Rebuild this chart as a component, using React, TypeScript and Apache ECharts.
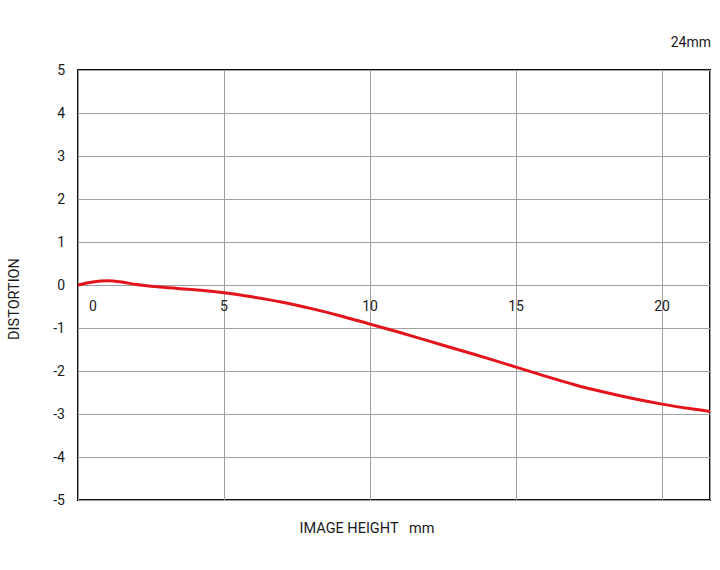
import React, { useEffect, useRef } from "react";
import * as echarts from "echarts";

const imageHeight = [0, 0.5, 1, 1.5, 2, 2.5, 3, 4, 5, 6, 7, 8, 9, 10, 11, 12, 13, 14, 15, 16, 17, 18, 19, 20, 21, 21.64];
const distortion = [0, 0.07, 0.1, 0.07, 0.01, -0.03, -0.06, -0.11, -0.18, -0.28, -0.4, -0.55, -0.72, -0.91, -1.1, -1.3, -1.5, -1.7, -1.91, -2.12, -2.32, -2.49, -2.64, -2.77, -2.88, -2.94];
const xTicks = [0, 5, 10, 15, 20];
const yMin = -5;
const yMax = 5;
const xMax = 21.64;
const focalLabel = "24mm";
const xTitle = "IMAGE HEIGHT   mm";
const yTitle = "DISTORTION";

export default function App() {
  const ref = useRef<HTMLDivElement>(null);
  useEffect(() => {
    if (!ref.current) return;
    const chart = echarts.init(ref.current, null, { renderer: "svg" });
    const font = "Roboto, 'Noto Sans', sans-serif";
    chart.setOption({
      animation: false,
      textStyle: { fontFamily: font },
      grid: {
        left: 78,
        right: 10,
        top: 70,
        bottom: 70,
        show: true,
        borderColor: "#111",
        borderWidth: 2,
        backgroundColor: "transparent",
      },
      xAxis: {
        type: "value",
        min: 0,
        max: xMax,
        interval: 5,
        position: "bottom",
        offset: -215,
        axisLine: { show: false, onZero: false },
        axisTick: { show: false },
        splitLine: { show: true, lineStyle: { color: "#a0a0a0", width: 1 } },
        axisLabel: {
          show: true,
          showMaxLabel: false,
          margin: 14,
          fontSize: 14,
          color: "#1a1a1a",
          fontFamily: font,
          formatter: (v: number) => {
            if (!xTicks.includes(v)) return "";
            return v === 0 ? "{first|0}" : String(v);
          },
          rich: {
            first: { padding: [0, 0, 0, 30], fontSize: 14, color: "#1a1a1a", fontFamily: font },
          },
        },
      },
      yAxis: {
        type: "value",
        min: yMin,
        max: yMax,
        interval: 1,
        axisLine: { show: false },
        axisTick: { show: false },
        splitLine: { show: true, lineStyle: { color: "#a0a0a0", width: 1 } },
        axisLabel: { margin: 13, fontSize: 14, color: "#1a1a1a", fontFamily: font },
      },
      graphic: [
        {
          type: "text",
          right: 9,
          top: 35,
          style: { text: focalLabel, fontSize: 14, fill: "#1a1a1a", fontFamily: font },
        },
        {
          type: "text",
          x: 367,
          y: 528,
          style: {
            text: xTitle,
            fontSize: 14.5,
            fill: "#1a1a1a",
            fontFamily: font,
            align: "center",
            verticalAlign: "middle",
          },
        },
        {
          type: "text",
          x: 14,
          y: 299,
          rotation: Math.PI / 2,
          style: {
            text: yTitle,
            fontSize: 14.5,
            fill: "#1a1a1a",
            fontFamily: font,
            align: "center",
            verticalAlign: "middle",
          },
        },
      ],
      series: [
        {
          type: "line",
          data: imageHeight.map((x, i) => [x, distortion[i]]),
          smooth: 0.3,
          showSymbol: false,
          lineStyle: { color: "#e3141b", width: 3 },
          clip: true,
        },
      ],
    });
    return () => chart.dispose();
  }, []);
  return (
    <div
      ref={ref}
      style={{ position: "fixed", left: 0, top: 0, width: 720, height: 570, background: "#fff" }}
    />
  );
}
